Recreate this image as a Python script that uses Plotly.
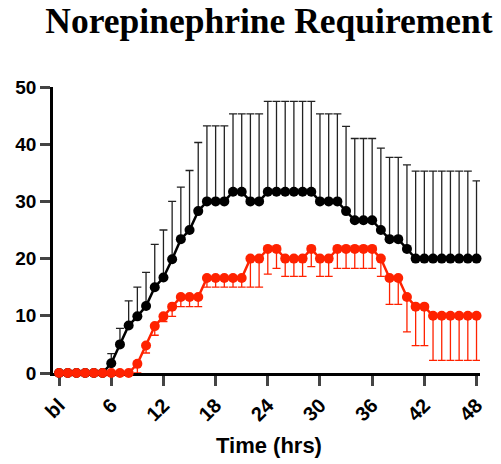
import plotly.graph_objects as go

hours = list(range(49))
tick_vals = [0, 6, 12, 18, 24, 30, 36, 42, 48]
tick_text = ["bl", "6", "12", "18", "24", "30", "36", "42", "48"]

black_mean = [0, 0, 0, 0, 0, 0, 1.7, 5.0, 8.3, 9.9, 11.7, 15.0, 16.7, 19.9, 23.4, 25.0, 28.3,
              30, 30, 30, 31.7, 31.7, 30, 30,
              31.7, 31.7, 31.7, 31.7, 31.7, 31.7, 30, 30, 30, 28.3, 26.7, 26.7, 26.7, 25.0,
              23.4, 23.4, 21.7, 20, 20, 20, 20, 20, 20, 20, 20]
black_upper = [0, 0, 0, 0, 0, 0, 3.4, 7.8, 12.6, 15.0, 17.6, 22.5, 25.0, 30.0, 32.5, 35.4, 40.3,
               43.2, 43.2, 43.2, 45.3, 45.3, 45.3, 45.3,
               47.5, 47.5, 47.5, 47.5, 47.5, 47.5, 45.3, 45.3, 45.3, 43.1, 41.0, 41.0, 41.0, 39.3,
               37.7, 37.7, 36.4, 35.3, 35.3, 35.3, 35.3, 35.3, 35.3, 35.3, 33.6]

red_mean = [0, 0, 0, 0, 0, 0, 0, 0, 0, 1.6, 4.8, 8.2, 9.9, 11.6, 13.3, 13.3, 13.3,
            16.6, 16.6, 16.6, 16.6, 16.6, 20, 20,
            21.7, 21.7, 20, 20, 20, 21.7, 20, 20, 21.7, 21.7, 21.7, 21.7, 21.7, 20,
            16.6, 16.6, 13.3, 11.6, 11.6, 10, 10, 10, 10, 10, 10]
red_lower = [0, 0, 0, 0, 0, 0, 0, 0, 0, 0, 3.5, 6.6, 9.0, 9.9, 11.6, 11.6, 11.6,
             15.0, 15.0, 15.0, 15.0, 15.0, 15.0, 15.0,
             17.3, 18.3, 16.9, 16.9, 16.9, 18.6, 16.9, 16.9, 18.3, 18.3, 18.3, 18.3, 18.3, 16.9,
             12.0, 12.0, 7.2, 4.8, 4.8, 2.2, 2.2, 2.2, 2.2, 2.2, 2.2]

black_err = [u - m for u, m in zip(black_upper, black_mean)]
red_err = [m - l for m, l in zip(red_mean, red_lower)]

BLACK = "#000000"
RED = "#FF2200"

fig = go.Figure()
fig.add_trace(go.Scatter(
    x=hours, y=black_mean, mode="lines+markers",
    line=dict(color=BLACK, width=2.5),
    marker=dict(color=BLACK, size=10),
    error_y=dict(type="data", symmetric=False, array=black_err,
                 arrayminus=[0] * len(hours), color="#222222", thickness=1.3, width=4),
    cliponaxis=False, showlegend=False))
fig.add_trace(go.Scatter(
    x=hours, y=red_mean, mode="lines+markers",
    line=dict(color=RED, width=2.5),
    marker=dict(color=RED, size=10),
    error_y=dict(type="data", symmetric=False, array=[0] * len(hours),
                 arrayminus=red_err, color=RED, thickness=1.3, width=4),
    cliponaxis=False, showlegend=False))

L, R, T, B = 53, 21, 87, 91
fig.update_layout(
    width=501, height=464,
    margin=dict(l=L, r=R, t=T, b=B),
    paper_bgcolor="white", plot_bgcolor="white",
    font=dict(family="Liberation Sans, Arial", color="black"),
    xaxis=dict(range=[-0.7, 48.4], tickvals=tick_vals, ticktext=tick_text,
               tickangle=-45, ticks="outside", ticklen=10, tickwidth=2.5,
               showline=True, linewidth=2.5, linecolor="black", showgrid=False,
               zeroline=False, layer="below traces",
               tickfont=dict(size=20, weight="bold", color="black")),
    yaxis=dict(range=[0, 50], tickvals=[0, 10, 20, 30, 40, 50],
               ticks="outside", ticklen=10, tickwidth=2.5,
               showline=True, linewidth=2.5, linecolor="black", showgrid=False,
               zeroline=False, layer="below traces",
               tickfont=dict(size=19, weight="bold", color="black")),
    title=dict(text="<b>Norepinephrine Requirement</b>",
               font=dict(family="Liberation Serif, Times New Roman", size=35.5, color="black"),
               xref="container", x=269 / 501, xanchor="center",
               yref="container", y=1 - 21 / 464, yanchor="middle"),
)
fig.add_annotation(text="<b>Time (hrs)</b>", xref="paper", yref="paper",
                   x=(269 - L) / (501 - L - R), y=-(445 - (464 - B)) / (464 - T - B),
                   xanchor="center", yanchor="middle", showarrow=False,
                   font=dict(size=22, color="black"))
fig.write_html("out.html")
